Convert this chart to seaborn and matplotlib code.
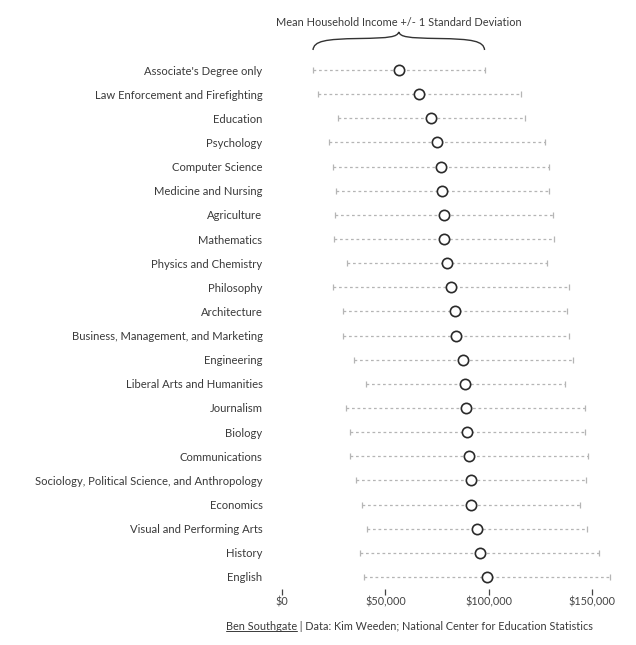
import numpy as np
import pandas as pd
import matplotlib
matplotlib.use("Agg")
import matplotlib.pyplot as plt
import matplotlib.transforms as mtransforms
from matplotlib.path import Path
from matplotlib.patches import PathPatch
import seaborn as sns

# majors, top to bottom
majors = [
    "Associate's Degree only",
    "Law Enforcement and Firefighting",
    "Education",
    "Psychology",
    "Computer Science",
    "Medicine and Nursing",
    "Agriculture",
    "Mathematics",
    "Physics and Chemistry",
    "Philosophy",
    "Architecture",
    "Business, Management, and Marketing",
    "Engineering",
    "Liberal Arts and Humanities",
    "Journalism",
    "Biology",
    "Communications",
    "Sociology, Political Science, and Anthropology",
    "Economics",
    "Visual and Performing Arts",
    "History",
    "English",
]

# mean household income (USD, thousands)
mean_income = [56.5, 66.4, 72.3, 75.1, 76.8, 77.6, 78.4, 78.5, 79.8, 81.8, 83.8,
               84.3, 87.8, 88.7, 88.9, 89.7, 90.5, 91.4, 91.6, 94.2, 95.6, 99.3]

# one standard deviation (USD, thousands)
sd_income = [41.5, 49.2, 45.3, 52.3, 52.3, 51.5, 52.9, 53.3, 48.4, 57.0, 54.1,
             54.6, 53.2, 48.2, 57.9, 56.7, 57.7, 55.7, 52.7, 53.2, 58.0, 59.6]

tick_values = [0, 50000, 100000, 150000]
tick_labels = ["$0", "$50,000", "$100,000", "$150,000"]

title_text = "Mean Household Income +/- 1 Standard Deviation"
credit_name = "Ben Southgate"
credit_rest = " | Data: Kim Weeden; National Center for Education Statistics"

TEXT = "#3a3a3a"


def main():
    sns.set_style("white")
    plt.rcParams["font.family"] = ["Lato", "DejaVu Sans"]
    plt.rcParams["text.parse_math"] = False

    df = pd.DataFrame({
        "major": majors,
        "mean": np.array(mean_income) * 1000,
        "sd": np.array(sd_income) * 1000,
    })
    df["pos"] = np.arange(len(df))

    W, H = 636, 645
    fig = plt.figure(figsize=(W / 100, H / 100), dpi=100)
    # axes placed in pixel terms: $0 at x=282, rows from y=70 to y=577
    left, right = 282, 282 + 160 * 2.067
    top, bottom = 58, 589
    ax = fig.add_axes([left / W, 1 - bottom / H, (right - left) / W, (bottom - top) / H])

    # dashed +/- 1 sd bars
    eb = ax.errorbar(df["mean"], df["pos"], xerr=df["sd"], fmt="none",
                     ecolor="#b5b5b5", elinewidth=0.9, capsize=2.5,
                     capthick=0.9, zorder=1)
    for lc in eb[2]:
        lc.set_linestyle((0, (2.2, 2.2)))

    sns.scatterplot(data=df, x="mean", y="pos", ax=ax, s=55, marker="o",
                    facecolor="white", edgecolor="#2a2a2a", linewidth=1.2,
                    zorder=3, legend=False)

    ax.set_xlim(0, 160000)
    ax.set_ylim(len(df) - 0.5, -0.5)
    ax.set_yticks(df["pos"])
    ax.set_yticklabels(df["major"], fontsize=8.1, color=TEXT)
    ax.set_xticks(tick_values)
    ax.set_xticklabels(tick_labels, fontsize=7.8, color="#444444")
    ax.tick_params(axis="y", length=0, pad=14)
    ax.tick_params(axis="x", length=4, width=0.9, color="#444444", pad=1.5,
                   direction="out", bottom=True)
    ax.set_xlabel("")
    ax.set_ylabel("")
    sns.despine(ax=ax, left=True, bottom=True)

    # title above the brace
    first_mean = df["mean"].iloc[0]
    first_sd = df["sd"].iloc[0]
    trans = mtransforms.blended_transform_factory(ax.transData, fig.transFigure)
    fig.text(399 / W, 1 - 22 / H, title_text, ha="center", va="center",
             fontsize=7.9, color=TEXT)

    # curly brace spanning the first row's range
    lo, hi = first_mean - first_sd, first_mean + first_sd
    mid = (lo + hi) / 2
    span = hi - lo

    def fy(y):
        return 1 - y / H

    verts = [
        (lo, fy(50)),
        (lo + 0.005 * span, fy(41)), (lo + 0.07 * span, fy(39)), (lo + 0.27 * span, fy(38.5)),
        (mid - 0.05 * span, fy(38)), (mid - 0.01 * span, fy(37)), (mid, fy(32)),
        (mid + 0.01 * span, fy(37)), (mid + 0.05 * span, fy(38)), (hi - 0.27 * span, fy(38.5)),
        (hi - 0.07 * span, fy(39)), (hi - 0.005 * span, fy(41)), (hi, fy(50)),
    ]
    codes = [Path.MOVETO] + [Path.CURVE4] * 12
    brace = PathPatch(Path(verts, codes), transform=trans, fill=False,
                      edgecolor="#333333", linewidth=1.0, clip_on=False)
    fig.add_artist(brace)

    # credit line with underlined name
    name_txt = fig.text(226 / W, 1 - 626 / H, credit_name, ha="left", va="center",
                        fontsize=7.8, color=TEXT)
    fig.canvas.draw()
    bb = name_txt.get_window_extent()
    fig.text(bb.x1 / W, 1 - 626 / H, credit_rest, ha="left", va="center",
             fontsize=7.8, color=TEXT)
    fig.add_artist(plt.Line2D([bb.x0 / W, bb.x1 / W], [(bb.y0 + 1) / H] * 2,
                              color=TEXT, linewidth=0.7))

    fig.savefig("out.png", dpi=100, facecolor="white")


if __name__ == "__main__":
    main()
